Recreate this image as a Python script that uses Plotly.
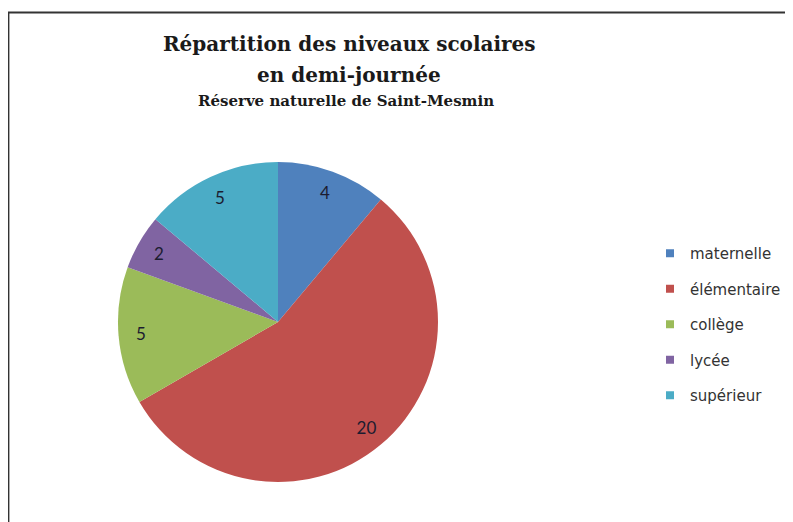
import plotly.graph_objects as go

categories = ["maternelle", "élémentaire", "collège", "lycée", "supérieur"]
values = [4, 20, 5, 2, 5]
colors = ["#4F81BD", "#C0504D", "#9BBB59", "#8064A2", "#4BACC6"]
title_lines = ["Répartition des niveaux scolaires", "en demi-journée", "Réserve naturelle de Saint-Mesmin"]

W, H = 793, 522
OFF = 8  # page body margin
def px(x): return (x - OFF) / W
def py(y): return 1 - (y - OFF) / H

dom = dict(x=[px(118), px(438)], y=[py(482), py(162)])

fig = go.Figure()
fig.add_trace(go.Pie(
    labels=categories, values=values, sort=False, direction="clockwise", rotation=0,
    marker=dict(colors=colors, line=dict(width=0)),
    textinfo="none", domain=dom, showlegend=False, hoverinfo="label+value",
))
# transparent ring used only to place the value labels near the outer edge
fig.add_trace(go.Pie(
    labels=categories, values=values, sort=False, direction="clockwise", rotation=0,
    hole=0.72, marker=dict(colors=["rgba(0,0,0,0)"] * len(values), line=dict(width=0)),
    textinfo="value", textposition="inside", insidetextorientation="horizontal",
    textfont=dict(family="Lato", size=17, color="#1c1c30"),
    domain=dom, showlegend=False, hoverinfo="skip",
))
for c, col in zip(categories, colors):
    fig.add_trace(go.Scatter(
        x=[None], y=[None], mode="markers", name=c, legendgroup=c,
        marker=dict(symbol="square", size=8, color=col),
    ))

title_specs = [(title_lines[0], 349, 44, 20), (title_lines[1], 349, 75, 20), (title_lines[2], 346, 101, 15)]
for txt, x, y, s in title_specs:
    fig.add_annotation(text=f"<b>{txt}</b>", x=px(x), y=py(y), xref="paper", yref="paper",
                       xanchor="center", yanchor="middle", showarrow=False,
                       font=dict(family="DejaVu Serif", size=s, color="#1a1a1a"))

fig.add_shape(type="rect", xref="paper", yref="paper", x0=px(8.5), x1=1.02, y0=-0.05, y1=py(12.5),
              line=dict(color="#333333", width=1.8))

fig.update_layout(
    width=W, height=H, margin=dict(l=0, r=0, t=0, b=0),
    paper_bgcolor="white", plot_bgcolor="white",
    xaxis=dict(visible=False), yaxis=dict(visible=False),
    legend=dict(x=px(650), y=py(237), xanchor="left", yanchor="top",
                font=dict(family="DejaVu Sans", size=15, color="#333333"),
                tracegroupgap=13, itemwidth=30, bgcolor="rgba(0,0,0,0)"),
)
fig.write_html("out.html")
